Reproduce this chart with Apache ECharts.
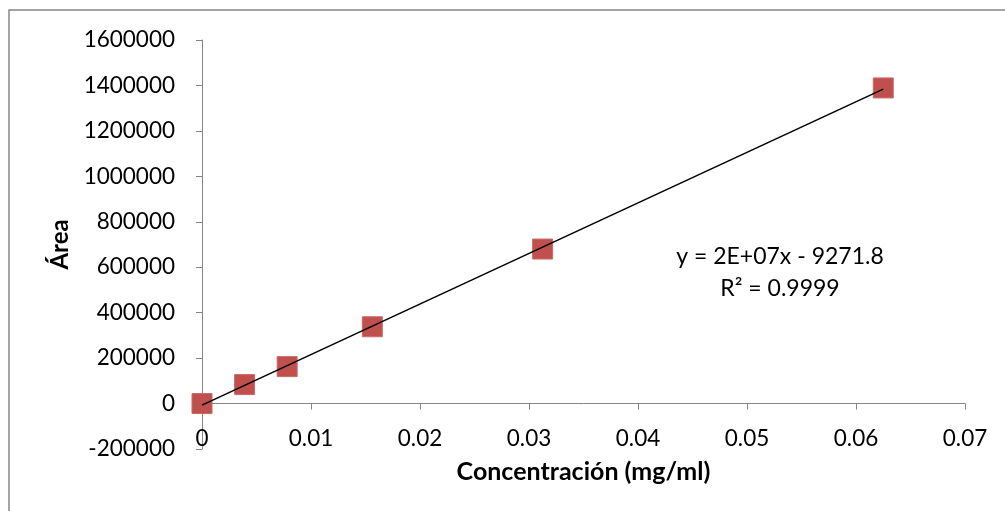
<!DOCTYPE html>
<html>
<head>
<meta charset="utf-8">
<script src="https://cdn.jsdelivr.net/npm/echarts@6/dist/echarts.min.js"></script>
<style>
html,body{margin:0;padding:0;background:#fff;}
#chart{width:1005px;height:511px;}
</style>
</head>
<body>
<div id="chart"></div>
<script>
// Data
const concentrations = [0, 0.00390625, 0.0078125, 0.015625, 0.03125, 0.0625];
const areas = [0, 83500, 162500, 338000, 680000, 1389000];
const xTicks = [0, 0.01, 0.02, 0.03, 0.04, 0.05, 0.06, 0.07];
const yTicks = [-200000, 0, 200000, 400000, 600000, 800000, 1000000, 1200000, 1400000, 1600000];
const equationText = ['y = 2E+07x - 9271.8', 'R² = 0.9999'];
const xTitle = 'Concentración (mg/ml)';
const yTitle = 'Área';

// Linear least-squares trendline from the data
const n = concentrations.length;
const mx = concentrations.reduce((a, b) => a + b, 0) / n;
const my = areas.reduce((a, b) => a + b, 0) / n;
let sxy = 0, sxx = 0;
for (let i = 0; i < n; i++) {
  sxy += (concentrations[i] - mx) * (areas[i] - my);
  sxx += (concentrations[i] - mx) * (concentrations[i] - mx);
}
const slope = sxy / sxx;
const intercept = my - slope * mx;
const xMin = Math.min(...concentrations), xMax = Math.max(...concentrations);
const trend = [[xMin, slope * xMin + intercept], [xMax, slope * xMax + intercept]];

const FONT = 'Lato';
const chart = echarts.init(document.getElementById('chart'), null, {renderer: 'canvas'});
chart.setOption({
  animation: false,
  backgroundColor: '#fff',
  textStyle: {fontFamily: FONT},
  grid: {left: 202, right: 40, top: 40, bottom: 62, containLabel: false, outerBoundsMode: 'none'},
  xAxis: {
    type: 'value',
    min: xTicks[0], max: xTicks[xTicks.length - 1], interval: 0.01,
    axisLine: {show: true, onZero: true, lineStyle: {color: '#868686', width: 1}},
    axisTick: {show: true, length: 6, inside: false, lineStyle: {color: '#868686'}},
    splitLine: {show: false},
    axisLabel: {color: '#000', fontSize: 22.5, fontFamily: FONT, margin: -22,
      formatter: v => String(Math.round(v * 100) / 100)},
    name: xTitle, nameLocation: 'middle', nameGap: 10, nameMoveOverlap: false,
    nameTextStyle: {color: '#000', fontSize: 25, fontWeight: 'bold', fontFamily: FONT}
  },
  yAxis: {
    type: 'value',
    min: yTicks[0], max: yTicks[yTicks.length - 1], interval: 200000,
    axisLine: {show: true, onZero: false, lineStyle: {color: '#868686', width: 1}},
    axisTick: {show: true, length: 6, lineStyle: {color: '#868686'}},
    splitLine: {show: false},
    axisLabel: {color: '#000', fontSize: 22.5, fontFamily: FONT, margin: 27,
      formatter: v => String(v)},
    name: yTitle, nameLocation: 'middle', nameGap: 130, nameRotate: 90, nameMoveOverlap: false,
    nameTextStyle: {color: '#000', fontSize: 24, fontWeight: 'bold', fontFamily: FONT}
  },
  series: [
    {
      type: 'scatter', z: 2,
      data: concentrations.map((c, i) => [c, areas[i]]),
      symbol: 'rect', symbolSize: 20,
      itemStyle: {color: '#C0504D', opacity: 1, borderColor: '#CB6A67', borderWidth: 1}
    },
    {
      type: 'line', z: 3,
      data: trend, showSymbol: false, symbol: 'none',
      lineStyle: {color: '#000', width: 1.6}
    }
  ],
  graphic: [
    {type: 'rect', shape: {x: 9, y: 10, width: 1000, height: 520}, silent: true, z: -1,
      style: {fill: 'none', stroke: '#868686', lineWidth: 1.5}},
    {type: 'text', x: 780, y: 257, style: {text: equationText[0], font: '23px ' + FONT, fill: '#000', align: 'center', verticalAlign: 'middle'}},
    {type: 'text', x: 780, y: 289, style: {text: equationText[1], font: '23px ' + FONT, fill: '#000', align: 'center', verticalAlign: 'middle'}}
  ]
});
</script>
</body>
</html>
